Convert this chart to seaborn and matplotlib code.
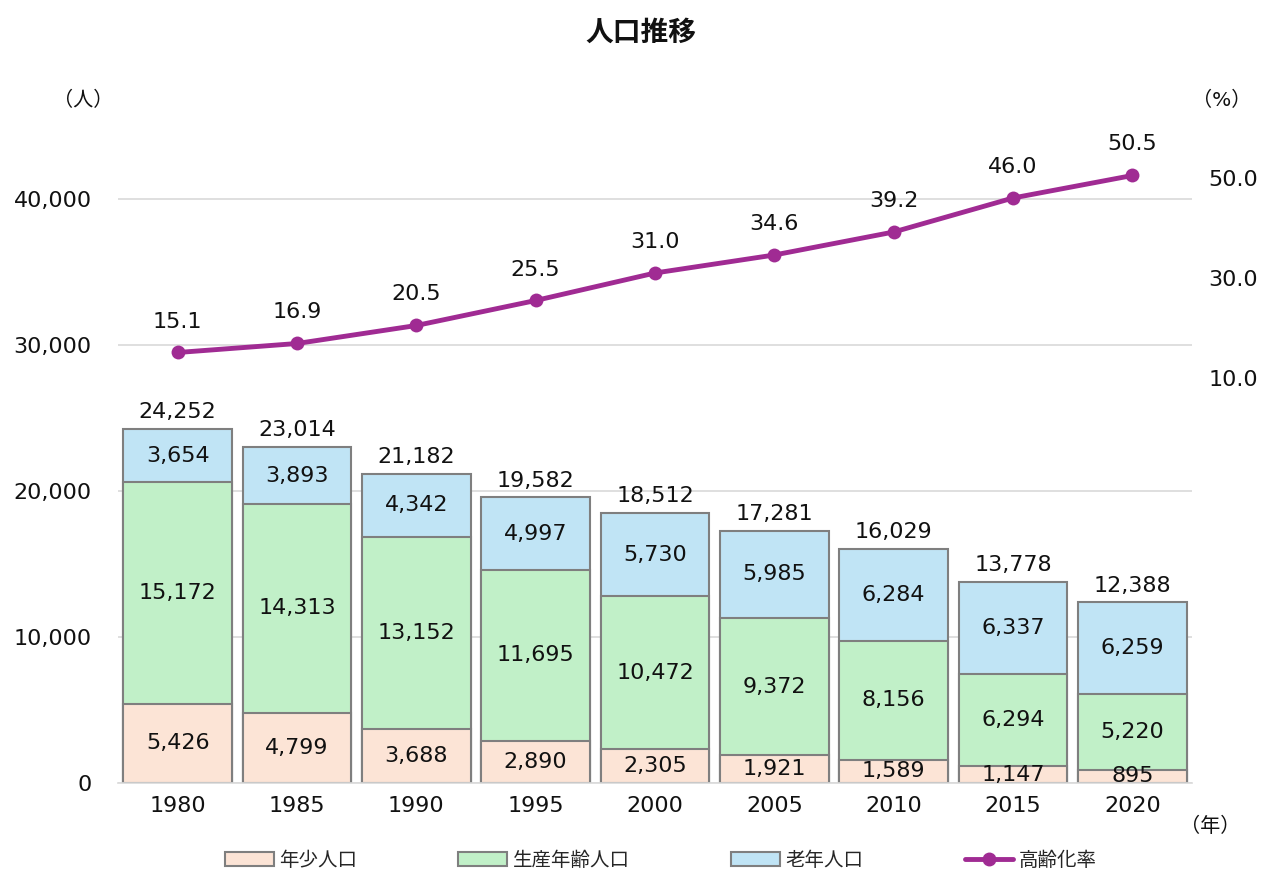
import numpy as np
import pandas as pd
import matplotlib
matplotlib.use("Agg")
import matplotlib.pyplot as plt
import seaborn as sns
from matplotlib.patches import Patch
from matplotlib.lines import Line2D
from matplotlib.ticker import FuncFormatter, FixedLocator

years = ["1980", "1985", "1990", "1995", "2000", "2005", "2010", "2015", "2020"]
young = [5426, 4799, 3688, 2890, 2305, 1921, 1589, 1147, 895]
working = [15172, 14313, 13152, 11695, 10472, 9372, 8156, 6294, 5220]
elderly = [3654, 3893, 4342, 4997, 5730, 5985, 6284, 6337, 6259]
totals = [24252, 23014, 21182, 19582, 18512, 17281, 16029, 13778, 12388]
aging_rate = [15.1, 16.9, 20.5, 25.5, 31.0, 34.6, 39.2, 46.0, 50.5]

sns.set_theme(style="white")
plt.rcParams["font.family"] = ["DejaVu Sans", "Noto Sans CJK JP"]

c_young = "#FCE4D6"
c_work = "#C1F0C8"
c_old = "#C0E4F5"
c_line = "#A02B93"
c_edge = "#7F7F7F"
txt = "#111111"

df = pd.DataFrame({
    "year": years,
    "young": young,
    "working": working,
    "elderly": elderly,
})
df["cum2"] = df["young"] + df["working"]
df["cum3"] = df["cum2"] + df["elderly"]

fig = plt.figure(figsize=(12.63, 8.71), dpi=100)
ax = fig.add_axes([118 / 1263, 1 - 783 / 871, (1192 - 118) / 1263, (783 - 126) / 871])

bw = 0.91
for col, colr in [("cum3", c_old), ("cum2", c_work), ("young", c_young)]:
    sns.barplot(data=df, x="year", y=col, color=colr, width=bw, edgecolor=c_edge,
                linewidth=1.5, saturation=1, ax=ax, zorder=2)

ax.set_xlim(-0.5, 8.5)
ax.set_ylim(0, 45000)
ax.yaxis.set_major_locator(FixedLocator([0, 10000, 20000, 30000, 40000]))
ax.yaxis.set_major_formatter(FuncFormatter(lambda v, p: f"{int(v):,}"))
ax.grid(axis="y", color="#D9D9D9", linewidth=1.2, zorder=0)
ax.set_axisbelow(True)
for s in ["top", "right", "left"]:
    ax.spines[s].set_visible(False)
ax.spines["bottom"].set_color("#D9D9D9")
ax.spines["bottom"].set_linewidth(1.2)
ax.set_xlabel("")
ax.set_ylabel("")
ax.tick_params(axis="both", length=0, labelsize=16, colors=txt)
ax.tick_params(axis="y", pad=19)
ax.tick_params(axis="x", pad=9)

# segment labels
for i in range(len(years)):
    y0 = 0
    for v in [young[i], working[i], elderly[i]]:
        ax.text(i, y0 + v / 2, f"{v:,}", ha="center", va="center", fontsize=16, color=txt, zorder=5)
        y0 += v
    ax.text(i, totals[i] + 450, f"{totals[i]:,}", ha="center", va="bottom", fontsize=16, color=txt)

ax2 = ax.twinx()
xs = np.arange(len(years))
sns.lineplot(x=xs, y=aging_rate, ax=ax2, color=c_line, linewidth=3.5, marker="o",
             markersize=10, markeredgewidth=0, zorder=6)
ax2.set_ylim(-71, 60.4)
ax2.yaxis.set_major_locator(FixedLocator([10, 30, 50]))
ax2.yaxis.set_major_formatter(FuncFormatter(lambda v, p: f"{v:.1f}"))
ax2.tick_params(axis="y", length=0, labelsize=16, colors=txt, pad=12)
ax2.grid(False)
for s in ["top", "right", "left", "bottom"]:
    ax2.spines[s].set_visible(False)
ax2.set_ylabel("")
for i, v in enumerate(aging_rate):
    ax2.text(i, v + 4.2, f"{v:.1f}", ha="center", va="bottom", fontsize=16, color=txt)

fig.text(641 / 1263, 1 - 33 / 871, "人口推移", ha="center", va="center", fontsize=20, fontweight="bold", color=txt)
fig.text(83 / 1263, 1 - 100 / 871, "（人）", ha="center", va="center", fontsize=14.5, color=txt)
fig.text(1222 / 1263, 1 - 100 / 871, "（%）", ha="center", va="center", fontsize=14.5, color=txt)
fig.text(1210 / 1263, 1 - 826 / 871, "（年）", ha="center", va="center", fontsize=14.5, color=txt)

handles = [
    Patch(facecolor=c_young, edgecolor=c_edge, linewidth=1.5),
    Patch(facecolor=c_work, edgecolor=c_edge, linewidth=1.5),
    Patch(facecolor=c_old, edgecolor=c_edge, linewidth=1.5),
    Line2D([0], [0], color=c_line, linewidth=3.5, marker="o", markersize=9),
]
labels = ["年少人口", "生産年齢人口", "老年人口", "高齢化率"]
fig.legend(handles, labels, loc="center", bbox_to_anchor=(661 / 1263, 1 - 860 / 871), ncol=4,
           frameon=False, fontsize=14, handlelength=2.5, handleheight=0.7, handletextpad=0.3,
           columnspacing=5.2)

fig.savefig("out.png", dpi=100)
